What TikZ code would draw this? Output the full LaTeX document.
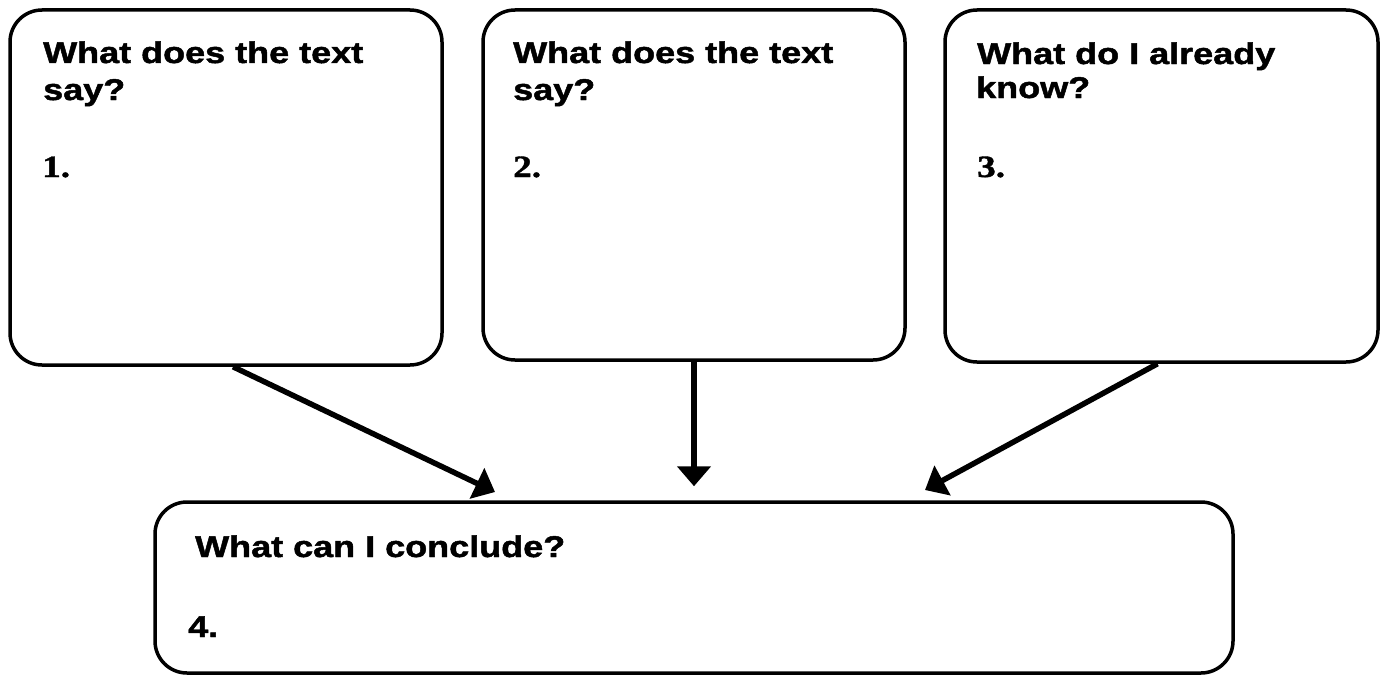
\documentclass[tikz,border=0pt]{standalone}
\usepackage{fontspec}
\newfontfamily\hdfont[FakeStretch=1.2, BoldFeatures={FakeBold=1.6}]{Liberation Sans}
\newfontfamily\numfont[FakeStretch=1.2, BoldFeatures={FakeBold=1.2}]{Liberation Serif}
\usetikzlibrary{arrows.meta}
\tikzset{
  box/.style={draw=black, line width=3.5pt, rounded corners=32pt, fill=white, inner sep=0pt},
  hd/.style={font=\hdfont\bfseries\fontsize{30}{34}\selectfont, anchor=base west, inner sep=0pt},
  num/.style={font=\numfont\bfseries\fontsize{31}{34}\selectfont, anchor=base west, inner sep=0pt},
  arr/.style={line width=5.5pt, -{Triangle[length=20pt,width=33pt]}}
}
\begin{document}
\begin{tikzpicture}[x=1pt,y=-1pt]
\useasboundingbox (0,0) rectangle (1386,677);
\fill[white] (0,0) rectangle (1386,677);
% boxes
\node[box, minimum width=432pt, minimum height=355pt] (b1) at (226,187.5) {};
\node[box, minimum width=422pt, minimum height=350pt] (b2) at (694,185) {};
\node[box, minimum width=433pt, minimum height=352pt] (b3) at (1161.5,186) {};
\node[box, minimum width=1078pt, minimum height=171pt] (b4) at (694,587.5) {};
% texts
\node[hd] (b1l1) at (43,63) {What does the text};
\node[hd] (b1l2) at (43,100) {say?};
\node[num] (b1n) at (42,177) {1.};
\node[hd] (b2l1) at (513,63) {What does the text};
\node[hd] (b2l2) at (513,100) {say?};
\node[num] (b2n) at (513,177) {2.};
\node[hd] (b3l1) at (977,64) {What do I already};
\node[hd] (b3l2) at (976,98) {know?};
\node[num] (b3n) at (977,177) {3.};
\node[hd] (b4l1) at (195,557) {What can I conclude?};
\node[hd] (b4n) at (188,637) {4.};
% arrows
\coordinate (t1) at (495,492);
\coordinate (t3) at (925,490);
\draw[arr] ([xshift=7pt]b1.south) -- (t1);
\draw[arr] (b2.south) -- ([yshift=14pt]b4.north);
\draw[arr] ([xshift=-4pt]b3.south) -- (t3);
\end{tikzpicture}
\end{document}
